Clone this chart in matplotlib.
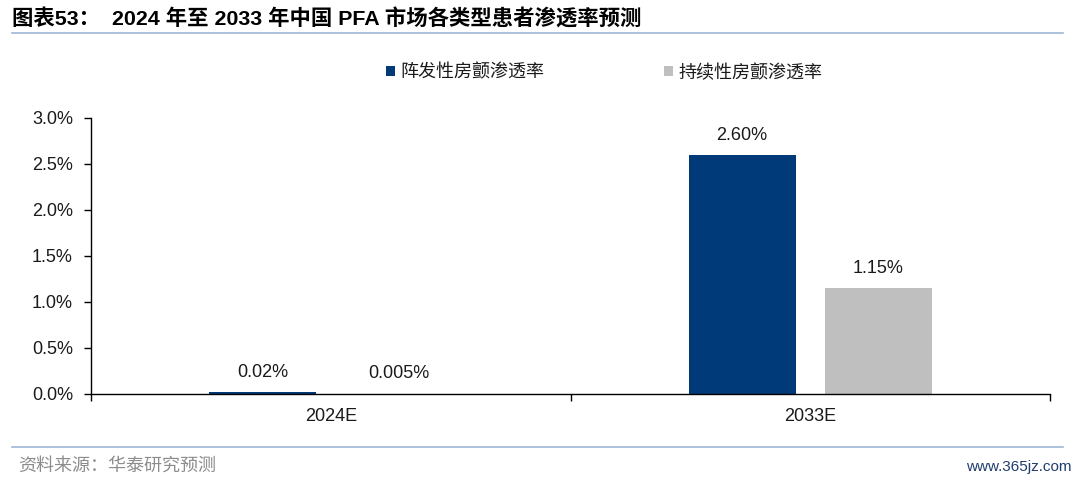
import matplotlib
matplotlib.use("Agg")
import matplotlib.pyplot as plt
from matplotlib.patches import Patch
from matplotlib.lines import Line2D
import numpy as np

categories = ["2024E", "2033E"]
series_names = ["阵发性房颤渗透率", "持续性房颤渗透率"]
paroxysmal = [0.02, 2.60]
persistent = [0.005, 1.15]
paroxysmal_labels = ["0.02%", "2.60%"]
persistent_labels = ["0.005%", "1.15%"]
yticks = [0.0, 0.5, 1.0, 1.5, 2.0, 2.5, 3.0]
ytick_labels = ["0.0%", "0.5%", "1.0%", "1.5%", "2.0%", "2.5%", "3.0%"]

title = "图表53：  2024 年至 2033 年中国 PFA 市场各类型患者渗透率预测"
source = "资料来源：华泰研究预测"
watermark = "www.365jz.com"

BLUE = "#003A78"
GRAY = "#BFBFBF"
LINE = "#9FB6D6"
FAM = ["Liberation Sans", "Noto Sans CJK SC", "DejaVu Sans"]
plt.rcParams["font.family"] = FAM

W, H = 1080, 484
fig = plt.figure(figsize=(W / 100, H / 100), dpi=100)
ax = fig.add_axes([91 / W, 1 - 394 / H, (1050 - 91) / W, (394 - 118) / H])

x = np.arange(len(categories))
bw = 0.223
off = 0.142
b1 = ax.bar(x - off, paroxysmal, width=bw, color=BLUE)
b2 = ax.bar(x + off, persistent, width=bw, color=GRAY)

for rect, lab in zip(b1, paroxysmal_labels):
    ax.annotate(lab, (rect.get_x() + rect.get_width() / 2, rect.get_height()),
                xytext=(0, 8), textcoords="offset points", ha="center", va="bottom",
                fontsize=13, color="#1a1a1a")
for rect, lab in zip(b2, persistent_labels):
    ax.annotate(lab, (rect.get_x() + rect.get_width() / 2, rect.get_height()),
                xytext=(0, 8), textcoords="offset points", ha="center", va="bottom",
                fontsize=13, color="#1a1a1a")

ax.set_xlim(-0.5, len(categories) - 0.5)
ax.set_ylim(0, 3.0)
ax.set_yticks(yticks)
ax.set_yticklabels(ytick_labels, fontsize=13, color="#1a1a1a")
ax.set_xticks(np.arange(len(categories) + 1) - 0.5)
ax.set_xticklabels([])
ax.set_xticks(x, minor=True)
ax.set_xticklabels(categories, minor=True, fontsize=13, color="#1a1a1a")
ax.tick_params(axis="x", which="major", direction="out", length=5, width=1, color="black")
ax.tick_params(axis="x", which="minor", length=0, pad=10)
ax.tick_params(axis="y", direction="out", length=5, width=1, color="black", pad=8)
for s in ["top", "right"]:
    ax.spines[s].set_visible(False)
for s in ["left", "bottom"]:
    ax.spines[s].set_color("black")
    ax.spines[s].set_linewidth(1)

handles = [Patch(facecolor=BLUE, edgecolor="none"), Patch(facecolor=GRAY, edgecolor="none")]
fig.legend(handles, series_names, loc="center", bbox_to_anchor=(604 / W, 1 - 73 / H),
           ncol=2, frameon=False, fontsize=13, handlelength=0.5, handleheight=0.5,
           handletextpad=0.3, columnspacing=6.6, labelcolor="#1a1a1a")

fig.text(12 / W, 1 - 19 / H, title, fontsize=15.4, fontweight="bold", ha="left", va="center",
         color="black")
fig.add_artist(Line2D([12 / W, 1063 / W], [1 - 33 / H, 1 - 33 / H], color=LINE, lw=1.2))
fig.add_artist(Line2D([12 / W, 1063 / W], [1 - 447 / H, 1 - 447 / H], color=LINE, lw=1.2))
fig.text(18 / W, 1 - 466 / H, source, fontsize=13, ha="left", va="center", color="#8c8c8c")
fig.text(1072 / W, 1 - 467 / H, watermark, fontsize=11, ha="right", va="center",
         color="#1F3D6E", fontstretch="condensed")

fig.savefig("out.png", dpi=100)
